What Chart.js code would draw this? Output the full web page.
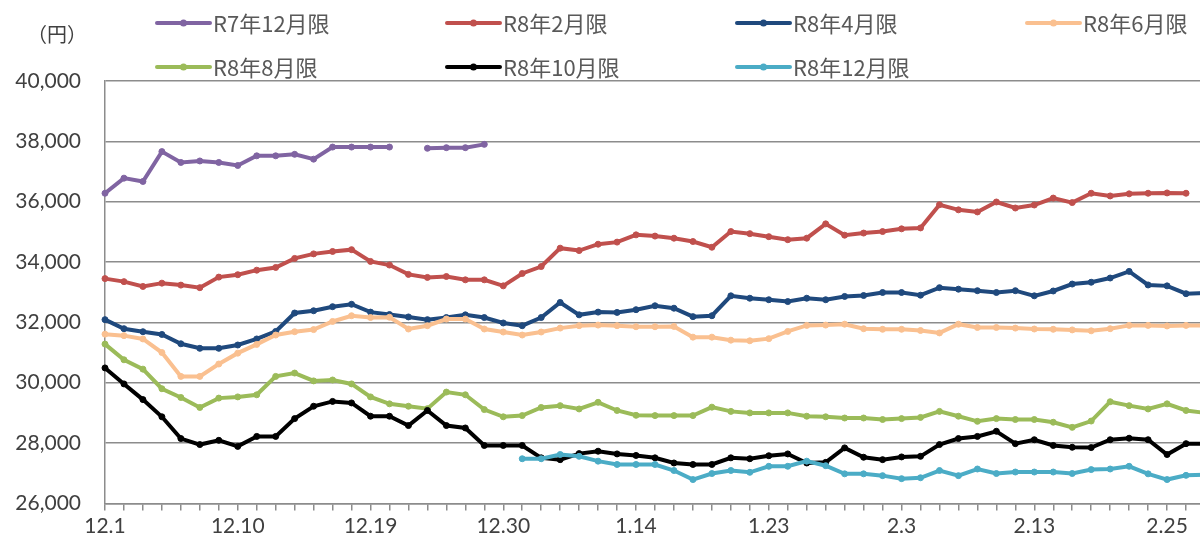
<!DOCTYPE html>
<html lang="ja">
<head>
    <meta charset="UTF-8">
    <title>限月別価格推移</title>
    <script src="https://cdn.jsdelivr.net/npm/chart.js"></script>
    <style>
        html, body { margin: 0; padding: 0; background: #fff; overflow: hidden; }
        #wrap { width: 1210px; height: 540px; }
    </style>
</head>
<body>
    <div id="wrap"><canvas id="lineChart" width="1210" height="540"></canvas></div>

    <script>
        // trading days 12/1 .. 2/27
        const dates = [
            '12.1', '12.2', '12.3', '12.4', '12.5', '12.8', '12.9', '12.10', '12.11', '12.12',
            '12.15', '12.16', '12.17', '12.18', '12.19', '12.22', '12.23', '12.24', '12.25', '12.26',
            '12.29', '12.30', '1.5', '1.6', '1.7', '1.8', '1.9', '1.13', '1.14', '1.15',
            '1.16', '1.19', '1.20', '1.21', '1.22', '1.23', '1.26', '1.27', '1.28', '1.29',
            '1.30', '2.2', '2.3', '2.4', '2.5', '2.6', '2.9', '2.10', '2.12', '2.13',
            '2.16', '2.17', '2.18', '2.19', '2.20', '2.24', '2.25', '2.26', '2.27'
        ];

        const seriesNames = ['R7年12月限', 'R8年2月限', 'R8年4月限', 'R8年6月限', 'R8年8月限', 'R8年10月限', 'R8年12月限'];
        const seriesColors = ['#8064A2', '#C0504D', '#1F497D', '#FAC090', '#9BBB59', '#000000', '#4BACC6'];

        const r7dec = [
            36280, 36780, 36670, 37660, 37300, 37350, 37300, 37200, 37520, 37520,
            37570, 37410, 37810, 37810, 37810, 37810, null, 37770, 37790, 37790,
            37900, null, null, null, null, null, null, null, null, null,
            null, null, null, null, null, null, null, null, null, null,
            null, null, null, null, null, null, null, null, null, null,
            null, null, null, null, null, null, null, null, null
        ];
        const r8feb = [
            33450, 33350, 33190, 33300, 33235, 33150, 33500, 33580, 33730, 33820,
            34120, 34270, 34350, 34410, 34020, 33900, 33590, 33490, 33520, 33410,
            33410, 33210, 33620, 33850, 34460, 34380, 34590, 34660, 34900, 34860,
            34790, 34680, 34490, 35010, 34940, 34840, 34740, 34790, 35265, 34890,
            34960, 35010, 35100, 35130, 35900, 35730, 35660, 35990, 35790, 35890,
            36120, 35970, 36280, 36190, 36260, 36280, 36290, 36280, null
        ];
        const r8apr = [
            32090, 31790, 31690, 31600, 31290, 31140, 31140, 31250, 31450, 31700,
            32310, 32385, 32520, 32600, 32340, 32260, 32180, 32090, 32160, 32250,
            32160, 31980, 31890, 32160, 32660, 32250, 32340, 32330, 32420, 32550,
            32470, 32190, 32220, 32880, 32800, 32750, 32690, 32800, 32750, 32860,
            32890, 32990, 32990, 32900, 33150, 33100, 33050, 32990, 33050, 32880,
            33040, 33270, 33330, 33470, 33690, 33240, 33210, 32950, 32970
        ];
        const r8jun = [
            31610, 31560, 31450, 31000, 30210, 30210, 30620, 30980, 31270, 31580,
            31690, 31760, 32030, 32220, 32160, 32170, 31780, 31890, 32110, 32110,
            31780, 31680, 31580, 31680, 31810, 31890, 31910, 31890, 31855, 31855,
            31865, 31510, 31510, 31410, 31390, 31460, 31700, 31900, 31910, 31940,
            31790, 31770, 31770, 31730, 31650, 31940, 31830, 31830, 31810, 31780,
            31770, 31750, 31720, 31790, 31900, 31900, 31880, 31900, 31900
        ];
        const r8aug = [
            31280, 30760, 30450, 29800, 29510, 29180, 29490, 29530, 29600, 30210,
            30320, 30060, 30090, 29960, 29530, 29300, 29220, 29140, 29690, 29600,
            29110, 28870, 28910, 29180, 29240, 29130, 29350, 29080, 28920, 28910,
            28910, 28910, 29190, 29050, 29000, 29000, 29000, 28890, 28870, 28830,
            28830, 28780, 28810, 28850, 29050, 28890, 28720, 28810, 28780, 28780,
            28690, 28520, 28730, 29370, 29240, 29130, 29300, 29080, 29000
        ];
        const r8oct = [
            30490, 29960, 29440, 28870, 28150, 27950, 28090, 27890, 28220, 28220,
            28810, 29220, 29380, 29330, 28890, 28890, 28580, 29080, 28580, 28500,
            27920, 27920, 27920, 27510, 27450, 27650, 27730, 27640, 27590, 27510,
            27340, 27290, 27290, 27510, 27480, 27580, 27640, 27340, 27360, 27840,
            27530, 27450, 27540, 27560, 27950, 28150, 28220, 28390, 27980, 28110,
            27920, 27860, 27850, 28110, 28160, 28110, 27620, 27980, 27980
        ];
        const r8dec = [
            null, null, null, null, null, null, null, null, null, null,
            null, null, null, null, null, null, null, null, null, null,
            null, null, 27480, 27480, 27620, 27560, 27400, 27290, 27290, 27290,
            27090, 26790, 26990, 27090, 27030, 27230, 27230, 27400, 27250, 26980,
            26980, 26920, 26820, 26850, 27090, 26920, 27140, 26990, 27040, 27040,
            27040, 26990, 27120, 27140, 27230, 26980, 26790, 26930, 26950
        ];

        const yMin = 26000, yMax = 40000, yStep = 2000;
        const seriesData = [r7dec, r8feb, r8apr, r8jun, r8aug, r8oct, r8dec];

        const gridGray = '#8c8c8c';
        const jpFont = '"Noto Sans CJK JP", "Noto Sans", sans-serif';
        const numFont = 'Lato, "Noto Sans", sans-serif';

        // legend laid out as a 4 column grid, like the Excel original
        const gridLegend = {
            id: 'gridLegend',
            afterDraw(chart) {
                const ctx = chart.ctx;
                ctx.save();
                chart.data.datasets.forEach((ds, i) => {
                    const x0 = 157 + (i % 4) * 290;
                    const y = 23 + Math.floor(i / 4) * 44;
                    ctx.strokeStyle = ds.borderColor;
                    ctx.lineWidth = 4;
                    ctx.lineCap = 'round';
                    ctx.beginPath();
                    ctx.moveTo(x0, y);
                    ctx.lineTo(x0 + 53, y);
                    ctx.stroke();
                    ctx.fillStyle = ds.borderColor;
                    ctx.beginPath();
                    ctx.arc(x0 + 26.5, y, 3.5, 0, Math.PI * 2);
                    ctx.fill();
                    ctx.fillStyle = '#595959';
                    ctx.font = '22px ' + jpFont;
                    ctx.textAlign = 'left';
                    ctx.textBaseline = 'middle';
                    ctx.fillText(ds.label, x0 + 56, y + 1);
                });
                // unit label
                ctx.fillStyle = '#404040';
                ctx.font = '20px ' + jpFont;
                ctx.textAlign = 'center';
                ctx.textBaseline = 'middle';
                ctx.fillText('（円）', 57, 34);
                ctx.restore();
            }
        };

        const ctx = document.getElementById('lineChart').getContext('2d');
        const lineChart = new Chart(ctx, {
            type: 'line',
            data: {
                labels: dates,
                datasets: seriesData.map((d, i) => ({
                    label: seriesNames[i],
                    data: d,
                    borderColor: seriesColors[i],
                    backgroundColor: seriesColors[i],
                    pointBackgroundColor: seriesColors[i],
                    pointBorderColor: seriesColors[i],
                    borderWidth: 4,
                    pointRadius: 3,
                    pointBorderWidth: 1,
                    tension: 0,
                    spanGaps: false,
                    order: 7 - i
                }))
            },
            options: {
                responsive: false,
                animation: false,
                layout: { padding: { top: 81, left: 0, right: 5, bottom: 0 } },
                plugins: {
                    legend: { display: false },
                    tooltip: { enabled: false }
                },
                scales: {
                    x: {
                        type: 'category',
                        offset: false,
                        grid: {
                            display: true,
                            drawOnChartArea: false,
                            drawTicks: true,
                            tickLength: 7,
                            color: gridGray,
                            lineWidth: 1.5
                        },
                        border: { color: gridGray, width: 1.5 },
                        ticks: {
                            autoSkip: false,
                            maxRotation: 0,
                            minRotation: 0,
                            padding: 3,
                            color: '#404040',
                            font: { family: numFont, size: 21 },
                            callback: function (val, i) {
                                return i % 7 === 0 ? dates[i] : '';
                            }
                        },
                        afterFit: function (scale) { scale.height = 36; }
                    },
                    y: {
                        min: yMin,
                        max: yMax,
                        grid: {
                            color: gridGray,
                            lineWidth: 1.5,
                            drawTicks: false
                        },
                        border: { color: gridGray, width: 1.5 },
                        ticks: {
                            stepSize: yStep,
                            padding: 24,
                            color: '#404040',
                            font: { family: numFont, size: 21 },
                            callback: v => v.toLocaleString('en-US')
                        },
                        afterFit: function (scale) { scale.width = 105; }
                    }
                }
            },
            plugins: [gridLegend]
        });
    </script>
</body>
</html>
